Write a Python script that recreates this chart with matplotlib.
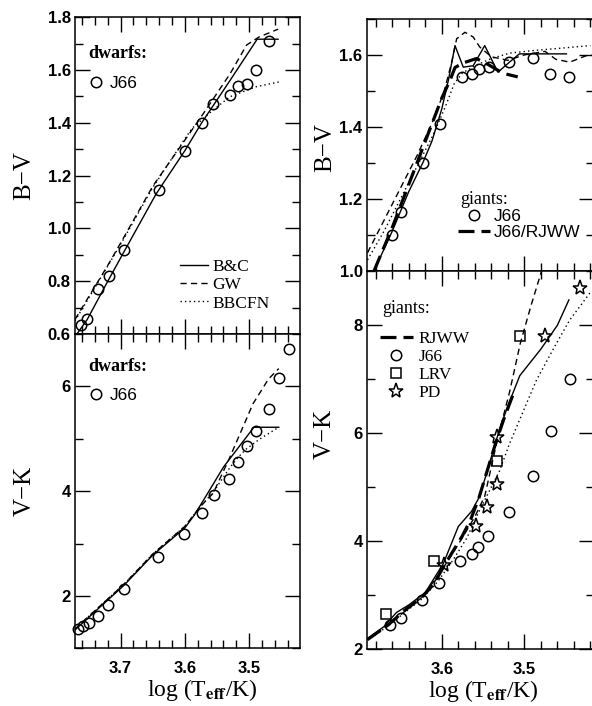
import numpy as np
import matplotlib
matplotlib.use('Agg')
import matplotlib.pyplot as plt
from matplotlib.lines import Line2D

plt.rcParams['font.family'] = 'serif'
plt.rcParams['font.serif'] = ['Liberation Serif', 'DejaVu Serif']
plt.rcParams['mathtext.fontset'] = 'stix'

# ---- dwarfs, B-V (top left) ----
j66d_bv_x = [3.761, 3.752, 3.735, 3.718, 3.694, 3.640, 3.600, 3.574, 3.556, 3.530, 3.517, 3.504, 3.490, 3.469]
j66d_bv_y = [0.634, 0.655, 0.772, 0.818, 0.920, 1.147, 1.293, 1.399, 1.470, 1.505, 1.538, 1.548, 1.599, 1.710]
bc_bv_x = [3.768, 3.752, 3.72, 3.694, 3.645, 3.60, 3.574, 3.53, 3.4876, 3.455]
bc_bv_y = [0.60, 0.655, 0.80, 0.915, 1.13, 1.295, 1.40, 1.56, 1.717, 1.717]
gw_bv_x = [3.771, 3.75, 3.72, 3.70, 3.65, 3.60, 3.57, 3.53, 3.504, 3.485, 3.455]
gw_bv_y = [0.655, 0.74, 0.86, 0.945, 1.16, 1.335, 1.44, 1.585, 1.695, 1.725, 1.755]
bb_bv_x = [3.771, 3.75, 3.70, 3.65, 3.60, 3.589, 3.556, 3.53, 3.489, 3.452]
bb_bv_y = [0.65, 0.735, 0.94, 1.155, 1.34, 1.379, 1.449, 1.499, 1.537, 1.556]

# ---- dwarfs, V-K (bottom left) ----
j66d_vk_x = [3.766, 3.758, 3.750, 3.735, 3.719, 3.695, 3.642, 3.601, 3.574, 3.554, 3.531, 3.517, 3.504, 3.490, 3.469, 3.453, 3.438]
j66d_vk_y = [1.37, 1.43, 1.48, 1.62, 1.82, 2.14, 2.74, 3.19, 3.58, 3.93, 4.24, 4.55, 4.86, 5.14, 5.57, 6.16, 6.72]
bc_vk_x = [3.771, 3.74, 3.695, 3.65, 3.60, 3.585, 3.569, 3.54, 3.512, 3.4926, 3.454]
bc_vk_y = [1.35, 1.70, 2.20, 2.78, 3.30, 3.55, 3.87, 4.46, 4.91, 5.22, 5.22]
gw_vk_x = [3.771, 3.74, 3.695, 3.65, 3.60, 3.575, 3.556, 3.53, 3.512, 3.494, 3.47, 3.454]
gw_vk_y = [1.37, 1.72, 2.22, 2.80, 3.33, 3.72, 3.96, 4.65, 5.16, 5.67, 6.14, 6.34]
bb_vk_x = [3.771, 3.74, 3.695, 3.65, 3.60, 3.575, 3.556, 3.53, 3.517, 3.505, 3.483, 3.454]
bb_vk_y = [1.37, 1.72, 2.22, 2.80, 3.33, 3.72, 3.98, 4.45, 4.65, 4.80, 5.00, 5.22]

# ---- giants, B-V (top right) ----
j66g_bv_x = [3.660, 3.649, 3.623, 3.602, 3.576, 3.5635, 3.5545, 3.543, 3.518, 3.490, 3.4695, 3.446]
j66g_bv_y = [1.100, 1.162, 1.300, 1.409, 1.539, 1.547, 1.560, 1.567, 1.581, 1.591, 1.548, 1.538]
rj_bv_x = [3.682, 3.66, 3.64, 3.62, 3.60, 3.59, 3.584, 3.574, 3.558, 3.545, 3.526, 3.508]
rj_bv_y = [1.0, 1.12, 1.24, 1.36, 1.48, 1.53, 1.565, 1.578, 1.59, 1.575, 1.549, 1.539]
bcg_bv_x = [3.682, 3.66, 3.64, 3.623, 3.612, 3.60, 3.592, 3.584, 3.574, 3.562, 3.548, 3.532, 3.518, 3.506, 3.449]
bcg_bv_y = [1.0, 1.11, 1.22, 1.30, 1.36, 1.45, 1.53, 1.626, 1.566, 1.57, 1.626, 1.552, 1.58, 1.603, 1.603]
gwg_bv_x = [3.69, 3.67, 3.65, 3.63, 3.61, 3.597, 3.588, 3.582, 3.572, 3.562, 3.554, 3.54, 3.52, 3.50, 3.475, 3.462, 3.445, 3.425, 3.41]
gwg_bv_y = [1.05, 1.14, 1.23, 1.32, 1.42, 1.50, 1.58, 1.645, 1.663, 1.65, 1.622, 1.595, 1.585, 1.60, 1.61, 1.588, 1.58, 1.598, 1.60]
bbg_bv_x = [3.69, 3.67, 3.65, 3.63, 3.61, 3.595, 3.585, 3.575, 3.558, 3.54, 3.518, 3.49, 3.46, 3.42]
bbg_bv_y = [1.03, 1.11, 1.20, 1.29, 1.38, 1.46, 1.52, 1.55, 1.572, 1.59, 1.605, 1.612, 1.618, 1.626]

# ---- giants, V-K (bottom right) ----
j66g_vk_x = [3.6623, 3.649, 3.624, 3.603, 3.578, 3.564, 3.556, 3.544, 3.5186, 3.4896, 3.4675, 3.4446]
j66g_vk_y = [2.45, 2.575, 2.914, 3.235, 3.637, 3.767, 3.891, 4.088, 4.54, 5.213, 6.034, 6.99]
lrv_x = [3.6675, 3.609, 3.5337, 3.5057]
lrv_y = [2.654, 3.624, 5.49, 7.784]
pd_x = [3.597, 3.558, 3.5458, 3.5337, 3.533, 3.4755, 3.4325]
pd_y = [3.563, 4.273, 4.625, 5.064, 5.93, 7.784, 8.674]
rj_vk_x = [3.69, 3.665, 3.645, 3.625, 3.61, 3.597, 3.585, 3.575, 3.565, 3.555, 3.545, 3.535, 3.525, 3.512]
rj_vk_y = [2.18, 2.45, 2.72, 2.95, 3.20, 3.55, 3.85, 4.10, 4.40, 4.80, 5.30, 5.80, 6.25, 6.78]
bcg_vk_x = [3.69, 3.67, 3.655, 3.64, 3.62, 3.598, 3.58, 3.564, 3.554, 3.542, 3.53, 3.52, 3.5055, 3.48, 3.46, 3.446]
bcg_vk_y = [2.20, 2.42, 2.68, 2.82, 3.05, 3.59, 4.27, 4.55, 4.83, 5.45, 6.07, 6.50, 7.06, 7.55, 7.99, 8.46]
gwg_vk_x = [3.69, 3.665, 3.645, 3.625, 3.605, 3.59, 3.574, 3.56, 3.548, 3.538, 3.532, 3.518, 3.505, 3.492, 3.478]
gwg_vk_y = [2.18, 2.45, 2.70, 2.95, 3.35, 3.70, 4.09, 4.45, 4.83, 5.51, 5.92, 6.75, 7.65, 8.35, 9.05]
bbg_vk_x = [3.69, 3.665, 3.645, 3.625, 3.605, 3.586, 3.57, 3.558, 3.545, 3.53, 3.518, 3.50, 3.4855, 3.465, 3.4454, 3.42]
bbg_vk_y = [2.17, 2.43, 2.68, 2.92, 3.25, 3.66, 4.05, 4.45, 4.85, 5.30, 5.80, 6.45, 6.97, 7.55, 8.08, 8.6]

fig = plt.figure(figsize=(5.92, 7.06), dpi=100)
ax_tl = fig.add_axes([0.1267, 0.5269, 0.380, 0.4486])
ax_bl = fig.add_axes([0.1267, 0.0817, 0.380, 0.4452])
ax_tr = fig.add_axes([0.6194, 0.6166, 0.384, 0.3565])
ax_br = fig.add_axes([0.6194, 0.0803, 0.384, 0.5363])

tickfont = dict(family='Liberation Sans', fontweight='bold', fontsize=12)
solid = dict(color='k', lw=1.0)
dashed = dict(color='k', lw=1.0, dashes=(4.5, 3))
dotted = dict(color='k', lw=1.0, dashes=(1, 2.2))
thick = dict(color='k', lw=2.3, dashes=(5, 2.2))
circ = dict(marker='o', ls='none', mfc='none', mec='k', ms=7.5, mew=1.1)
square = dict(marker='s', ls='none', mfc='none', mec='k', ms=6.5, mew=1.1)
star = dict(marker='*', ls='none', mfc='none', mec='k', ms=11, mew=1.1)
xlab = r'log (T$_{\mathbf{eff}}$/K)'


def style(ax, xlim, ylim, ymaj, ylabs, ymin, xlabels):
    lo, hi = min(xlim), max(xlim)
    xmaj = [t for t in [3.7, 3.6, 3.5] if lo <= t <= hi]
    xmin = [t for t in np.arange(3.42, 3.775, 0.02) if lo <= t <= hi]
    ax.set_xticks(xmaj, [f'{t:.1f}' for t in xmaj], **tickfont)
    ax.set_xticks(xmin, minor=True)
    ax.set_yticks(ymaj, ylabs, **tickfont)
    ax.set_yticks(ymin, minor=True)
    ax.set_xlim(*xlim)
    ax.set_ylim(*ylim)
    ax.tick_params(which='both', direction='in', top=True, right=True, width=1)
    ax.tick_params(which='major', length=11)
    ax.tick_params(which='minor', length=6)
    ax.tick_params(axis='x', pad=9, labelbottom=xlabels)
    ax.tick_params(axis='y', pad=3)
    for s in ax.spines.values():
        s.set_linewidth(1.1)


# top left
ax = ax_tl
ax.plot(bc_bv_x, bc_bv_y, **solid, label='B&C')
ax.plot(gw_bv_x, gw_bv_y, **dashed, label='GW')
ax.plot(bb_bv_x, bb_bv_y, **dotted, label='BBCFN')
ax.plot(j66d_bv_x, j66d_bv_y, **circ)
style(ax, (3.771, 3.421), (0.6, 1.8), [0.6, 0.8, 1.0, 1.2, 1.4, 1.6, 1.8],
      ['0.6', '0.8', '1.0', '1.2', '1.4', '1.6', '1.8'], [0.7, 0.9, 1.1, 1.3, 1.5, 1.7], False)
ax.set_ylabel('B\u2212V', fontsize=18)
ax.yaxis.set_label_coords(-0.175, 0.5)
ax.text(0.058, 0.887, 'dwarfs:', transform=ax.transAxes, fontsize=13, va='center', fontweight='bold')
leg = ax.legend(handles=[Line2D([], [], **circ)], labels=['J66'], loc='upper left',
                bbox_to_anchor=(0.058, 0.815), frameon=False, borderpad=0, borderaxespad=0,
                handlelength=0.9, handletextpad=0.35, prop={'family': 'Liberation Sans', 'size': 12.5})
ax.add_artist(leg)
ax.legend(loc='upper left', bbox_to_anchor=(0.467, 0.237), frameon=False, borderpad=0,
          borderaxespad=0, handlelength=1.6, handletextpad=0.25, labelspacing=0.12,
          prop={'size': 12.5})

# bottom left
ax = ax_bl
ax.plot(bc_vk_x, bc_vk_y, **solid)
ax.plot(gw_vk_x, gw_vk_y, **dashed)
ax.plot(bb_vk_x, bb_vk_y, **dotted)
ax.plot(j66d_vk_x, j66d_vk_y, **circ, clip_on=False)
style(ax, (3.771, 3.421), (1.0, 7.0), [2, 4, 6], ['2', '4', '6'], [1, 3, 5, 7], True)
ax.set_ylabel('V\u2212K', fontsize=18)
ax.yaxis.set_label_coords(-0.175, 0.5)
ax.set_xlabel(xlab, fontsize=17)
ax.xaxis.set_label_coords(0.567, -0.09)
ax.text(0.058, 0.896, 'dwarfs:', transform=ax.transAxes, fontsize=13, va='center', fontweight='bold')
ax.legend(handles=[Line2D([], [], **circ)], labels=['J66'], loc='upper left',
          bbox_to_anchor=(0.058, 0.828), frameon=False, borderpad=0, borderaxespad=0,
          handlelength=0.9, handletextpad=0.35, prop={'family': 'Liberation Sans', 'size': 12.5})

# top right
ax = ax_tr
ax.plot(bcg_bv_x, bcg_bv_y, **solid)
ax.plot(gwg_bv_x, gwg_bv_y, **dashed)
ax.plot(bbg_bv_x, bbg_bv_y, **dotted)
ax.plot(rj_bv_x, rj_bv_y, **thick)
ax.plot(j66g_bv_x, j66g_bv_y, **circ)
style(ax, (3.691, 3.4156), (1.0, 1.7), [1.0, 1.2, 1.4, 1.6], ['1.0', '1.2', '1.4', '1.6'],
      [1.1, 1.3, 1.5, 1.7], False)
ax.set_ylabel('B\u2212V', fontsize=18)
ax.yaxis.set_label_coords(-0.135, 0.49)
ax.text(0.41, 0.281, 'giants:', transform=ax.transAxes, fontsize=13, va='center')
ax.legend(handles=[Line2D([], [], **circ), Line2D([], [], **thick)], labels=['J66', 'J66/RJWW'],
          loc='upper left', bbox_to_anchor=(0.402, 0.245), frameon=False, borderpad=0,
          borderaxespad=0, handlelength=1.85, handletextpad=0.2, labelspacing=0.05,
          prop={'family': 'Liberation Sans', 'size': 12.5})

# bottom right
ax = ax_br
ax.plot(bcg_vk_x, bcg_vk_y, **solid)
ax.plot(gwg_vk_x, gwg_vk_y, **dashed)
ax.plot(bbg_vk_x, bbg_vk_y, **dotted)
ax.plot(rj_vk_x, rj_vk_y, **thick)
ax.plot(j66g_vk_x, j66g_vk_y, **circ)
ax.plot(lrv_x, lrv_y, **square)
ax.plot(pd_x, pd_y, **star)
style(ax, (3.691, 3.4156), (2, 9), [2, 4, 6, 8], ['2', '4', '6', '8'], [3, 5, 7, 9], True)
ax.set_ylabel('V\u2212K', fontsize=18)
ax.yaxis.set_label_coords(-0.135, 0.57)
ax.set_xlabel(xlab, fontsize=17)
ax.xaxis.set_label_coords(0.513, -0.0755)
ax.text(0.067, 0.9007, 'giants:', transform=ax.transAxes, fontsize=13, va='center')
ax.legend(handles=[Line2D([], [], **thick), Line2D([], [], **circ),
                   Line2D([], [], **square), Line2D([], [], **star)],
          labels=['RJWW', 'J66', 'LRV', 'PD'], loc='upper left', bbox_to_anchor=(0.0585, 0.841),
          frameon=False, borderpad=0, borderaxespad=0, handlelength=1.9, handletextpad=0.3,
          labelspacing=0.1, prop={'size': 12.5})

plt.savefig('out.png', dpi=100)
